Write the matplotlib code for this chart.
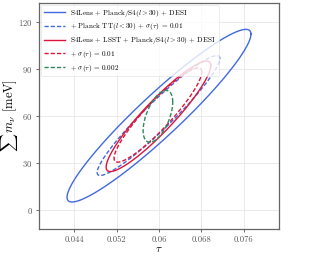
import numpy as np
import matplotlib
matplotlib.use("Agg")
import matplotlib.pyplot as plt

plt.rcParams['font.family'] = 'serif'
plt.rcParams['font.serif'] = ['cmr10']
plt.rcParams['mathtext.fontset'] = 'cm'
plt.rcParams['axes.formatter.use_mathtext'] = True

labels = [r"S4Lens + Planck/S4$(l > 30)$ + DESI",
          r"+ Planck TT$(l < 30)$ + $\sigma(\tau)$ = 0.01",
          r"S4Lens + LSST + Planck/S4$(l > 30)$ + DESI",
          r"+ $\sigma(\tau)$ = 0.01",
          r"+ $\sigma(\tau)$ = 0.002"]
colors = ["#4169e1", "#4169e1", "#dc143c", "#dc143c", "#2e8b57"]
styles = ["-", "--", "-", "--", "--"]
tau_c = [0.0600, 0.0599, 0.0599, 0.0598, 0.0598]
mnu_c = [60.2, 60.3, 59.8, 60.6, 59.8]
sig_tau = [0.0174, 0.0116, 0.0099, 0.0083, 0.0028]
sig_mnu = [55.0, 38.2, 35.2, 30.0, 16.5]
rho = [0.945, 0.95, 0.92, 0.915, 0.55]

xticks = [0.044, 0.052, 0.06, 0.068, 0.076]
xticklabels = ["0.044", "0.052", "0.06", "0.068", "0.076"]
yticks = [0, 30, 60, 90, 120]

fig = plt.figure(figsize=(3.10, 2.58), dpi=100)
ax = fig.add_axes([39/310, 1-229/258, 240/310, 226/258])

t = np.linspace(0, 2*np.pi, 400)
for i in range(len(labels)):
    x = tau_c[i] + sig_tau[i]*np.cos(t)
    y = mnu_c[i] + sig_mnu[i]*(rho[i]*np.cos(t) + np.sqrt(1-rho[i]**2)*np.sin(t))
    kw = dict(dashes=(3, 1.5)) if styles[i] == "--" else {}
    ax.plot(x, y, color=colors[i], ls=styles[i], lw=1.0, label=labels[i], **kw)

ax.set_xlim(0.0373, 0.0827)
ax.set_ylim(-12, 132)
ax.set_xticks(xticks)
ax.set_xticklabels(xticklabels)
ax.set_yticks(yticks)
ax.tick_params(labelsize=6.2, length=2.5, width=0.6, colors="#555555", pad=2)
ax.grid(True, color="#e6e6e6", lw=0.6)
for s in ax.spines.values():
    s.set_color("#666666")
    s.set_linewidth(0.9)
ax.set_xlabel(r"$\tau$", fontsize=8)
ax.set_ylabel(r"$\sum\, m_\nu$ [meV]", fontsize=9)
ax.xaxis.set_label_coords(0.5, -0.07)
ax.yaxis.set_label_coords(-0.08, 0.5)
leg = ax.legend(loc="upper left", fontsize=5.2, framealpha=0.8, edgecolor="#dddddd",
                handlelength=2.9, borderaxespad=0.3, labelspacing=0.38, handletextpad=0.8,
                borderpad=0.35)
leg.get_frame().set_linewidth(0.5)

fig.savefig("out.png", dpi=100)
